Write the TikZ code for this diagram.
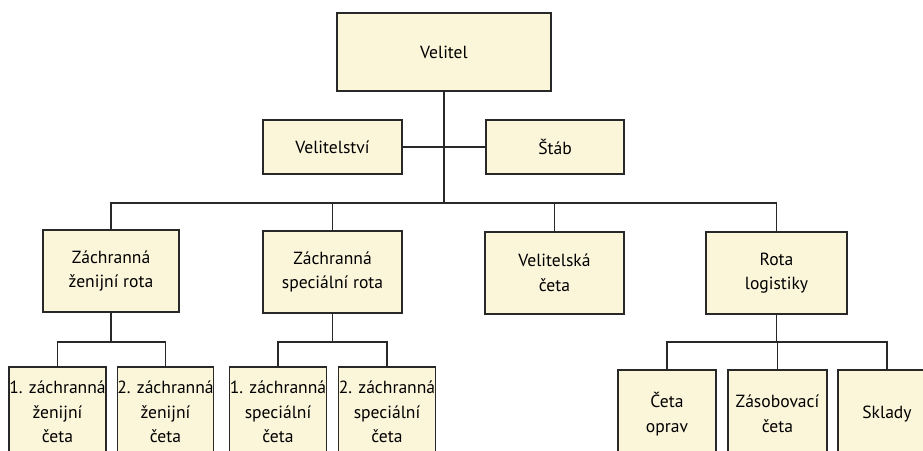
\documentclass[tikz,border=0pt]{standalone}
\usepackage{fontspec}
\setmainfont{PT Sans}
\usepackage{xcolor}
\usetikzlibrary{calc}

\definecolor{boxfill}{RGB}{251,246,218}
\definecolor{linecol}{RGB}{40,40,40}

\tikzset{
	unit/.style={draw=linecol, line width=0.8pt, fill=boxfill, align=center,
		font=\fontsize{12.5}{17.5}\selectfont, inner sep=0pt},
	size/.style 2 args={minimum width=#1*0.025cm, minimum height=#2*0.025cm},
	link/.style={draw=linecol, line width=0.8pt}
}

\begin{document}
\begin{tikzpicture}[x=0.025cm, y=-0.025cm]
	\fill[white] (0,0) rectangle (923,450);
	\clip (0,0) rectangle (923,450);

	% top
	\draw
		(444,52) node[unit, size={214}{78}] (velitel) {Velitel}
		(332.5,147) node[unit, size={139}{54}] (velitelstvi) {Velitelství}
		(555,147) node[unit, size={138}{54}] (stab) {Štáb};

	% second level
	\draw
		(111,271) node[unit, size={136}{82}] (zzr) {Záchranná\\ženijní rota}
		(332.5,272) node[unit, size={139}{82}] (zsr) {Záchranná\\speciální rota}
		(554.5,273) node[unit, size={139}{82}] (vc) {Velitelská\\četa}
		(776.5,273) node[unit, size={141}{82}] (rl) {Rota\\logistiky};

	% third level
	\draw
		(57.5,412) node[unit, size={97}{90}] (zc1) {1. záchranná\\ženijní\\četa}
		(165.5,412) node[unit, size={95}{90}] (zc2) {2. záchranná\\ženijní\\četa}
		(278,412) node[unit, size={96}{90}] (sc1) {1. záchranná\\speciální\\četa}
		(387,412) node[unit, size={96}{90}] (sc2) {2. záchranná\\speciální\\četa}

		(667,414) node[unit, size={98}{88}] (oprav) {Četa\\oprav}
		(777.5,414) node[unit, size={99}{88}] (zasob) {Zásobovací\\četa}
		(887,414) node[unit, size={98}{88}] (sklady) {Sklady};

	\coordinate (bus) at (444,203);
	\coordinate (zzrbus) at (111,342);
	\coordinate (zsrbus) at (332.5,342);
	\coordinate (rlbus) at (776.5,342);

	\draw[link]
		(velitel.south) -- (bus)
		(velitelstvi.east) -- (stab.west);

	\draw[link]
		(bus) -| (zzr.north)
		(bus) -| (zsr.north)
		(bus) -| (vc.north)
		(bus) -| (rl.north);

	\draw[link]
		(zzr.south) -- (zzrbus)
		(zzrbus) -| (zc1.north)
		(zzrbus) -| (zc2.north)
		(zsr.south) -- (zsrbus)
		(zsrbus) -| (sc1.north)
		(zsrbus) -| (sc2.north)
		(rl.south) -- (rlbus)
		(rlbus) -| (oprav.north)
		(rlbus) -| (zasob.north)
		(rlbus) -| (sklady.north);
\end{tikzpicture}
\end{document}
